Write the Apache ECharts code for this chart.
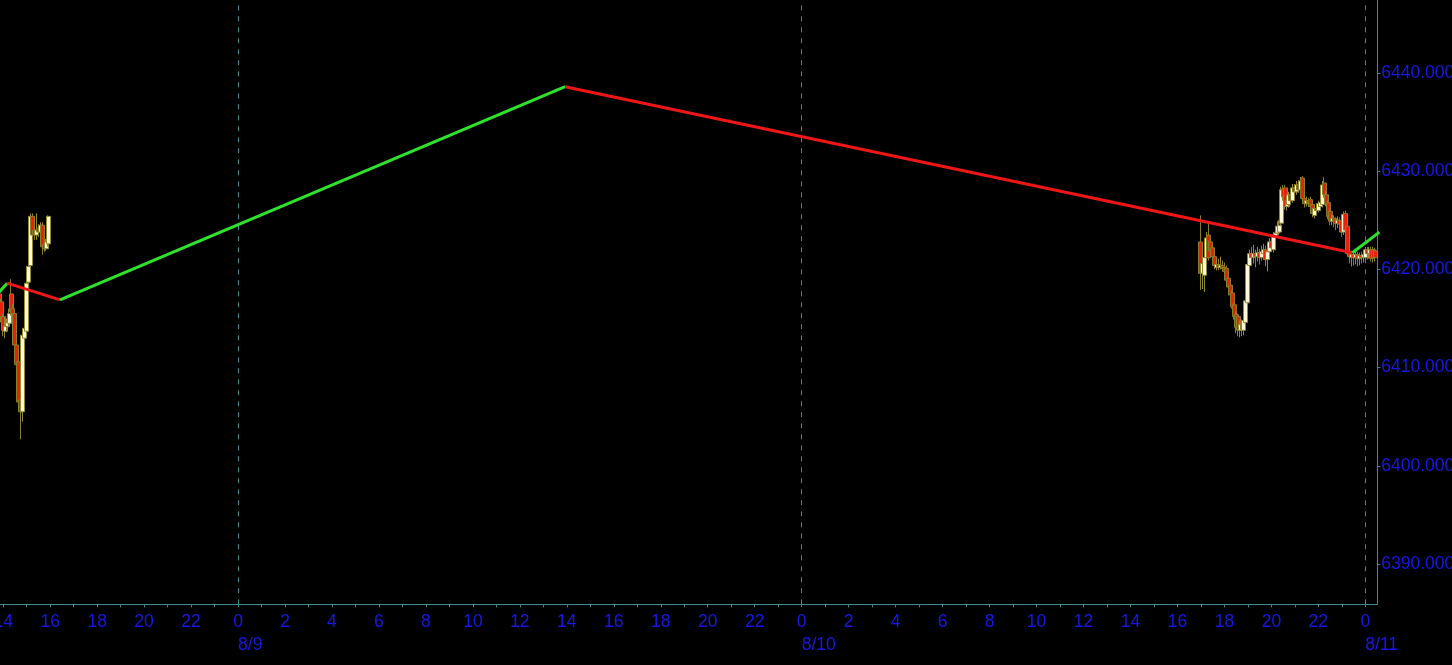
<!DOCTYPE html>
<html><head><meta charset="utf-8">
<script src="https://cdn.jsdelivr.net/npm/echarts@6/dist/echarts.min.js"></script>
<style>html,body{margin:0;padding:0;background:#000;overflow:hidden;width:1452px;height:665px;position:relative;}
#c{position:absolute;left:-21px;top:0;width:1473px;height:665px;}</style>
</head><body><div id="c"></div>
<script>
// hours are measured from 8/9 00:00
const dayLabels = ['8/8', '8/9', '8/10', '8/11'];
const candleStepHours = 5 / 60;
const fridayStartHour = -10 - 10 / 60;   // 8/8 13:50
const sundayStartHour = 41;              // 8/10 17:00
// [open, close, low, high]
const fridayCandles = [
  [6417.5, 6416.5, 6416.0, 6418.0], [6416.7, 6415.2, 6414.6, 6417.0], [6415.2, 6413.8, 6413.2, 6415.5],
  [6413.7, 6414.2, 6413.0, 6415.2], [6414.2, 6414.6, 6413.6, 6415.0], [6414.5, 6415.5, 6414.1, 6416.0],
  [6417.5, 6415.7, 6415.3, 6419.0], [6416.0, 6415.5, 6414.8, 6416.5], [6415.5, 6412.3, 6412.0, 6415.8],
  [6412.3, 6410.3, 6409.9, 6412.6], [6410.6, 6406.5, 6406.0, 6410.9], [6406.7, 6405.5, 6402.7, 6407.0],
  [6405.5, 6413.3, 6404.5, 6413.6], [6413.0, 6414.0, 6412.5, 6414.4], [6413.7, 6418.6, 6413.4, 6419.0],
  [6418.7, 6420.3, 6418.4, 6420.6], [6420.4, 6425.4, 6420.1, 6425.7], [6425.4, 6423.5, 6423.1, 6425.7],
  [6424.0, 6423.6, 6423.0, 6424.5], [6423.5, 6424.0, 6423.0, 6425.7], [6424.2, 6423.8, 6423.3, 6424.6],
  [6423.8, 6424.5, 6423.4, 6424.8], [6424.5, 6422.3, 6421.5, 6424.8], [6422.5, 6422.1, 6421.8, 6422.9],
  [6422.1, 6422.8, 6421.9, 6423.1], [6422.6, 6425.4, 6422.3, 6425.5]
];
const sundayCandles = [
  [6422.8, 6419.6, 6417.9, 6425.5], [6419.6, 6420.6, 6418.0, 6421.5], [6419.4, 6421.2, 6417.7, 6421.8],
  [6421.2, 6423.2, 6420.8, 6423.8], [6423.5, 6421.2, 6420.9, 6424.7], [6422.8, 6421.9, 6421.2, 6423.2],
  [6422.2, 6421.3, 6420.8, 6422.6], [6421.3, 6420.4, 6420.0, 6421.6], [6420.2, 6420.5, 6419.9, 6421.2],
  [6420.5, 6420.2, 6419.9, 6421.1], [6420.2, 6420.4, 6420.0, 6421.3], [6420.4, 6420.1, 6419.8, 6420.9],
  [6420.2, 6419.8, 6419.5, 6420.7], [6420.1, 6418.9, 6418.7, 6420.4], [6419.1, 6418.2, 6418.0, 6419.4],
  [6418.4, 6417.4, 6417.1, 6418.7], [6417.6, 6416.2, 6416.0, 6417.9], [6416.4, 6415.2, 6414.9, 6416.6],
  [6415.4, 6414.1, 6413.5, 6415.7], [6415.2, 6413.8, 6413.2, 6415.5], [6413.8, 6414.4, 6413.1, 6414.8],
  [6414.4, 6413.9, 6413.2, 6414.9], [6413.8, 6414.8, 6413.3, 6415.2], [6414.6, 6416.8, 6414.3, 6417.2],
  [6416.6, 6420.5, 6416.2, 6421.0], [6420.4, 6421.6, 6420.0, 6422.0], [6421.6, 6421.2, 6420.5, 6422.3],
  [6421.2, 6421.6, 6420.6, 6422.5], [6421.6, 6421.3, 6420.2, 6422.0], [6421.3, 6421.7, 6420.8, 6422.3],
  [6421.7, 6421.2, 6420.5, 6422.1], [6421.2, 6421.8, 6420.9, 6422.4], [6421.6, 6422.0, 6421.0, 6422.6],
  [6422.0, 6421.0, 6420.3, 6422.4], [6421.0, 6421.8, 6419.8, 6422.2], [6421.8, 6422.8, 6421.5, 6423.2],
  [6422.8, 6422.2, 6421.8, 6423.1], [6422.0, 6423.3, 6421.7, 6423.8], [6423.3, 6423.7, 6423.0, 6424.2],
  [6423.7, 6424.4, 6423.4, 6424.9], [6423.8, 6424.5, 6423.5, 6425.0], [6424.7, 6428.1, 6424.4, 6428.4],
  [6428.2, 6427.4, 6427.0, 6428.6], [6428.3, 6426.4, 6426.1, 6428.6], [6426.4, 6427.0, 6426.0, 6427.4],
  [6426.6, 6427.6, 6426.3, 6427.9], [6427.6, 6427.0, 6426.6, 6428.0], [6427.0, 6428.3, 6426.8, 6428.7],
  [6428.3, 6427.9, 6427.5, 6428.7], [6427.9, 6428.6, 6427.6, 6429.0], [6428.6, 6428.1, 6427.8, 6429.1],
  [6428.1, 6429.0, 6427.9, 6429.4], [6429.3, 6427.2, 6427.0, 6429.5], [6427.2, 6426.7, 6426.3, 6427.6],
  [6426.7, 6427.0, 6426.4, 6427.4], [6427.0, 6426.8, 6426.4, 6427.3], [6427.1, 6426.4, 6426.0, 6427.4],
  [6426.6, 6425.7, 6425.3, 6426.9], [6425.5, 6426.2, 6425.2, 6426.5], [6426.2, 6426.0, 6425.6, 6426.5],
  [6426.0, 6426.7, 6425.8, 6427.0], [6426.4, 6426.8, 6426.1, 6427.2], [6426.6, 6428.6, 6426.3, 6429.0],
  [6428.8, 6427.6, 6427.3, 6429.4], [6427.6, 6426.7, 6426.4, 6428.0], [6426.8, 6425.4, 6425.1, 6427.1],
  [6425.9, 6424.9, 6424.5, 6426.2], [6424.9, 6425.2, 6424.5, 6425.6], [6425.2, 6424.9, 6424.3, 6425.5],
  [6425.0, 6424.7, 6424.0, 6425.3], [6424.7, 6425.0, 6424.2, 6425.4], [6425.0, 6424.6, 6423.8, 6425.3],
  [6424.9, 6423.8, 6423.3, 6425.2], [6423.8, 6425.6, 6423.5, 6425.9], [6425.7, 6424.0, 6423.7, 6426.0],
  [6424.4, 6421.6, 6421.3, 6424.8], [6421.8, 6421.3, 6420.6, 6422.2], [6421.2, 6421.5, 6420.3, 6421.9],
  [6421.5, 6421.2, 6420.4, 6421.8], [6421.2, 6421.5, 6420.5, 6421.9], [6421.5, 6421.1, 6420.3, 6421.8],
  [6421.1, 6421.4, 6420.4, 6421.7], [6421.4, 6421.2, 6420.6, 6421.8], [6421.2, 6421.5, 6420.7, 6421.9],
  [6421.2, 6422.0, 6420.8, 6422.3], [6422.0, 6421.6, 6421.0, 6422.3], [6421.6, 6422.0, 6421.1, 6422.3],
  [6422.0, 6421.1, 6420.8, 6422.3], [6422.0, 6421.2, 6420.7, 6422.3], [6421.9, 6421.2, 6420.8, 6422.2]
];
// zigzag indicator turning points
const zigHours = [-10.4, -9.83, -7.58, 13.93, 47.45, 48.6];
const zigValues = [6417.1, 6418.6, 6416.9, 6438.6, 6421.7, 6423.8];
const dayBoundaryHours = [0, 24, 48];

const FONT = 'Liberation Sans';
const FS = 17.5;
const BLUE = '#1818e6';
const TEAL = '#3a8e8e';

function toSeriesData(startHour, candles) {
  return candles.map((c, i) => [startHour + i * candleStepHours, c[0], c[1], c[2], c[3]]);
}
const candleStyle = {
  color: '#fff8d6', color0: '#e8220a',
  borderColor: '#948a34', borderColor0: '#8a7e2a', borderWidth: 1
};
const series = [
  { type: 'candlestick', data: toSeriesData(fridayStartHour, fridayCandles), encode: { x: 0, y: [1, 2, 3, 4] },
    barWidth: 4.5, itemStyle: candleStyle, z: 2, silent: true,
    markLine: { silent: true, symbol: ['none', 'none'], label: { show: false },
      lineStyle: { color: TEAL, type: [5, 6], width: 1 },
      data: dayBoundaryHours.map(h => ({ xAxis: h })) } },
  { type: 'candlestick', data: toSeriesData(sundayStartHour, sundayCandles), encode: { x: 0, y: [1, 2, 3, 4] },
    barWidth: 4.5, itemStyle: candleStyle, z: 2, silent: true }
];
for (let i = 0; i < zigHours.length - 1; i++) {
  const up = zigValues[i + 1] > zigValues[i];
  series.push({ type: 'line', data: [[zigHours[i], zigValues[i]], [zigHours[i + 1], zigValues[i + 1]]],
    showSymbol: false, symbol: 'none', z: 5, silent: true, clip: true,
    lineStyle: { color: up ? '#2ee22e' : '#ee1616', width: 3 } });
}

const chart = echarts.init(document.getElementById('c'), null, { width: 1473, height: 665 });
chart.setOption({
  backgroundColor: '#000000',
  animation: false,
  grid: { left: 0.7, right: 74.7, top: 0, bottom: 60.7, containLabel: false, outerBoundsMode: 'none' },
  xAxis: {
    type: 'value', min: -11, max: 48.51, interval: 1,
    axisLine: { show: true, onZero: false, lineStyle: { color: TEAL, width: 1 } },
    axisTick: { show: true, length: 3, lineStyle: { color: TEAL } },
    splitLine: { show: false },
    axisLabel: {
      margin: 6, showMinLabel: false, showMaxLabel: false,
      formatter: function (v) {
        const r = Math.round(v);
        if (Math.abs(v - r) > 1e-6 || r % 2 !== 0) return '';
        const hod = ((r % 24) + 24) % 24;
        if (hod === 0) {
          const d = dayLabels[Math.floor(r / 24) + 1];
          return '{h|0}\n{g|' + d + '}{d|' + d + '}';
        }
        return '{h|' + hod + '}';
      },
      rich: {
        h: { color: BLUE, fontSize: FS, fontFamily: FONT, lineHeight: 23 },
        d: { color: BLUE, fontSize: FS, fontFamily: FONT, lineHeight: 23 },
        g: { color: 'transparent', fontSize: FS, fontFamily: FONT, lineHeight: 23 }
      }
    }
  },
  yAxis: {
    type: 'value', position: 'right', min: 6385.9, max: 6447.43, splitNumber: 6,
    axisLine: { show: true, onZero: false, lineStyle: { color: TEAL, width: 1 } },
    axisTick: { show: true, length: 3, lineStyle: { color: TEAL } },
    splitLine: { show: false },
    axisLabel: { color: BLUE, fontSize: FS, fontFamily: FONT, margin: 4,
      showMinLabel: false, showMaxLabel: false,
      formatter: v => v.toFixed(3) }
  },
  series: series
});
</script>
</body></html>
